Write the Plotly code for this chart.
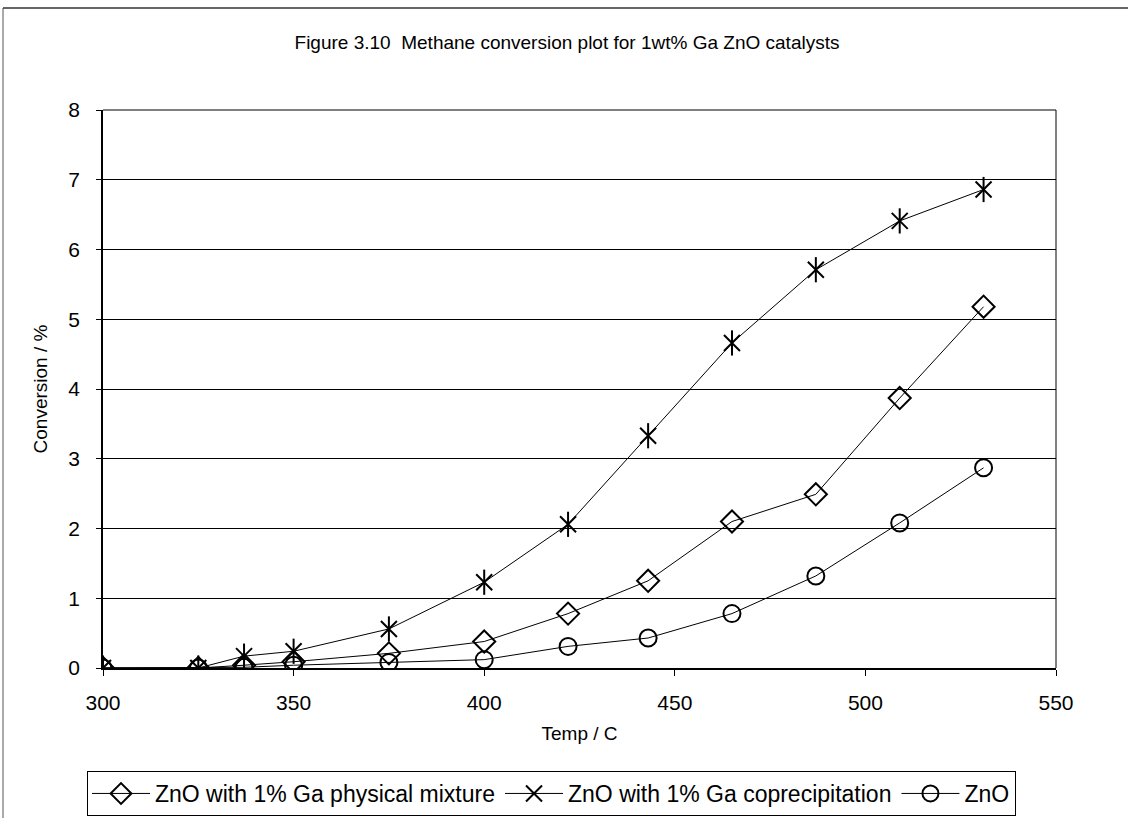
import plotly.graph_objects as go

# Reactor temperature (C) and methane conversion (%) for each catalyst
temps = [300, 325, 337, 350, 375, 400, 422, 443, 465, 487, 509, 531]
phys_mix = [0, 0, 0.04, 0.09, 0.21, 0.38, 0.78, 1.25, 2.10, 2.49, 3.87, 5.18]
coprecip = [0, 0, 0.17, 0.24, 0.56, 1.23, 2.06, 3.33, 4.66, 5.71, 6.41, 6.86]
zno_only = [0, 0, 0.01, 0.04, 0.08, 0.12, 0.31, 0.43, 0.78, 1.32, 2.08, 2.87]

names = [
    "ZnO with 1% Ga physical mixture",
    "ZnO with 1% Ga coprecipitation",
    "ZnO",
]
x_ticks = [300, 350, 400, 450, 500, 550]
y_ticks = [0, 1, 2, 3, 4, 5, 6, 7, 8]

FONT = "Arial, Liberation Sans, sans-serif"
W, H = 1128, 818
L, R, T, B = 103, 72, 110, 150
PW, PH = W - L - R, H - T - B


def px_x(p):
    return (p - L) / PW


def px_y(p):
    return (H - B - p) / PH


line_style = dict(color="black", width=1)
mk_line = dict(color="black", width=2)

fig = go.Figure()
fig.add_trace(go.Scatter(
    x=temps, y=phys_mix, name=names[0], mode="lines+markers",
    line=line_style,
    marker=dict(symbol="diamond-open", size=17, color="black", line=mk_line),
))
fig.add_trace(go.Scatter(
    x=temps, y=coprecip, name=names[1], mode="lines+markers",
    line=line_style, legendgroup="cop",
    marker=dict(symbol="x-thin-open", size=16, color="black", line=mk_line),
))
# vertical stroke completing the six-armed star marker
fig.add_trace(go.Scatter(
    x=temps, y=coprecip, mode="markers", showlegend=False, legendgroup="cop",
    hoverinfo="skip",
    marker=dict(symbol="line-ns-open", size=18, color="black", line=mk_line),
))
fig.add_trace(go.Scatter(
    x=temps, y=zno_only, name=names[2], mode="lines+markers",
    line=line_style,
    marker=dict(symbol="circle-open", size=17, color="black", line=mk_line),
))

shapes = [
    # outer frame of the chart (left and top edges)
    dict(type="line", xref="paper", yref="paper",
         x0=px_x(3), x1=px_x(3), y0=px_y(8), y1=px_y(H),
         line=dict(color="#555555", width=1)),
    dict(type="line", xref="paper", yref="paper",
         x0=px_x(3), x1=px_x(W), y0=px_y(8), y1=px_y(8),
         line=dict(color="#333333", width=1.5)),
    # plot-area border (top and right)
    dict(type="line", xref="paper", yref="paper", x0=0, x1=1, y0=1, y1=1,
         line=dict(color="black", width=1)),
    dict(type="line", xref="paper", yref="paper", x0=1, x1=1, y0=0, y1=1,
         line=dict(color="black", width=1)),
]

fig.update_layout(
    width=W, height=H,
    margin=dict(l=L, r=R, t=T, b=B, autoexpand=False),
    paper_bgcolor="white", plot_bgcolor="white",
    font=dict(family=FONT, color="black", size=19),
    title=dict(
        text="Figure 3.10  Methane conversion plot for 1wt% Ga ZnO catalysts",
        x=px_x(567), xanchor="center", xref="paper",
        y=1 - 42 / H, yanchor="middle", yref="container",
        font=dict(family=FONT, size=19, color="black"),
    ),
    xaxis=dict(
        range=[300, 550], tickvals=x_ticks, ticktext=[str(v) for v in x_ticks],
        showgrid=False, zeroline=False,
        showline=True, linecolor="black", linewidth=1.5,
        ticks="outside", ticklen=6, tickcolor="black", tickwidth=1,
        ticklabelstandoff=9,
        tickfont=dict(family=FONT, size=21, color="black"),
        title=dict(text="Temp / C", standoff=14,
                   font=dict(family=FONT, size=19, color="black")),
        automargin=False,
    ),
    yaxis=dict(
        range=[0, 8], tickvals=y_ticks, ticktext=[str(v) for v in y_ticks],
        showgrid=True, gridcolor="black", gridwidth=1, zeroline=False,
        showline=True, linecolor="black", linewidth=1.5,
        ticks="outside", ticklen=5, tickcolor="black", tickwidth=1,
        ticklabelstandoff=12,
        tickfont=dict(family=FONT, size=21, color="black"),
        title=dict(text="Conversion / %", standoff=16,
                   font=dict(family=FONT, size=19, color="black")),
        automargin=False,
    ),
    legend=dict(
        orientation="h", x=px_x(87), xanchor="left", y=px_y(771), yanchor="top",
        bordercolor="black", borderwidth=1, bgcolor="white",
        font=dict(family=FONT, size=23, color="black"),
        itemwidth=58, tracegroupgap=0,
    ),
    shapes=shapes,
    showlegend=True,
)

fig.write_html("out.html")
